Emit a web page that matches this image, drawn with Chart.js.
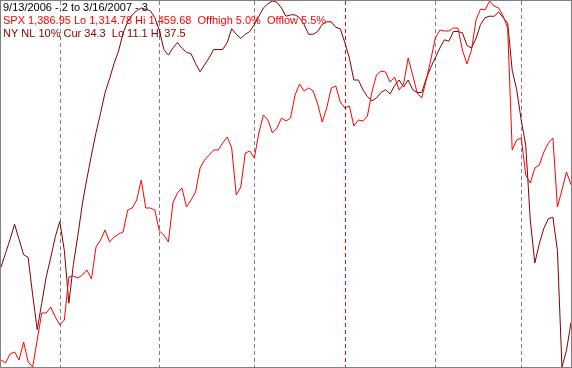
<!DOCTYPE html>
<html lang="en">
<head>
  <meta charset="UTF-8" />
  <title>SPX vs NY NL 10%</title>
  <script src="https://cdn.jsdelivr.net/npm/chart.js"></script>
  <style>
    html, body {
      margin: 0;
      padding: 0;
      background: #fff;
    }
    #wrap {
      width: 572px;
      height: 368px;
      position: relative;
    }
  </style>
</head>
<body>
  <div id="wrap">
    <canvas id="chart" width="572" height="368"></canvas>
  </div>

  <script>
    // daily closes, 9/13/2006 to 3/16/2007
    const spx = [
      1317.55, 1316.36, 1319.93, 1320.72, 1317.55, 1324.68, 1316.76, 1314.78, 1325.47, 1336.16,
      1336.16, 1338.53, 1334.58, 1331.41, 1333.39, 1350.41, 1350.81, 1350.02, 1351.20, 1353.18,
      1349.62, 1362.29, 1365.06, 1369.02, 1364.27, 1366.25, 1367.43, 1368.23, 1376.94, 1377.73,
      1380.90, 1388.81, 1377.73, 1377.73, 1376.94, 1368.62, 1367.04, 1364.27, 1379.71, 1383.67,
      1385.65, 1378.12, 1380.90, 1384.06, 1393.56, 1396.73, 1398.71, 1400.69, 1400.69, 1403.46,
      1405.84, 1401.48, 1382.87, 1386.04, 1399.50, 1400.29, 1397.52, 1407.42, 1414.55, 1412.57,
      1407.42, 1409.40, 1413.36, 1412.17, 1413.36, 1422.46, 1426.82, 1424.05, 1425.24, 1424.05,
      1418.90, 1411.78, 1417.32, 1425.24, 1426.03, 1419.69, 1417.32, 1418.11, 1410.19, 1412.57,
      1412.17, 1414.15, 1423.65, 1430.38, 1431.97, 1431.57, 1427.61, 1429.59, 1424.44, 1426.82,
      1437.11, 1430.38, 1423.26, 1421.28, 1428.40, 1436.32, 1445.03, 1448.20, 1447.80, 1447.80,
      1448.99, 1448.99, 1440.28, 1434.74, 1440.28, 1452.16, 1456.51, 1456.12, 1459.68, 1457.70,
      1456.91, 1453.74, 1448.99, 1400.69, 1404.65, 1405.44, 1390.79, 1387.63, 1393.56, 1394.75,
      1399.90, 1403.46, 1405.44, 1378.12, 1384.85, 1391.98, 1386.95
    ];

    // NYSE new lows, 10% smoothing (plotted upside down)
    const nyNl = [
      30.3, 29.3, 28.3, 27.2, 28.3, 29.4, 29.6, 32.3, 34.8, 32.9,
      31.0, 29.6, 28.1, 27.0, 29.1, 32.9, 30.1, 28.0, 25.7, 23.9,
      22.2, 20.6, 19.2, 17.7, 16.7, 15.6, 14.7, 13.4, 12.6, 12.1,
      11.8, 11.6, 11.7, 11.8, 12.3, 13.2, 14.6, 15.0, 14.5, 14.1,
      14.5, 14.8, 14.9, 15.6, 16.2, 15.7, 15.2, 14.6, 14.6, 14.6,
      14.1, 13.1, 13.5, 13.8, 13.5, 13.3, 12.8, 12.2, 11.6, 11.3,
      11.1, 11.2, 11.6, 12.2, 12.1, 12.1, 12.3, 12.8, 13.5, 13.5,
      13.3, 12.8, 12.6, 12.6, 13.0, 13.1, 14.1, 15.2, 16.8, 16.8,
      17.5, 18.0, 18.3, 18.1, 17.7, 17.5, 17.8, 17.2, 16.8, 17.3,
      16.8, 17.5, 17.7, 17.7, 16.7, 15.9, 15.2, 14.5, 13.9, 14.0,
      13.3, 13.3, 13.4, 14.3, 14.5, 13.8, 12.8, 12.3, 12.2, 12.2,
      11.9, 12.3, 12.7, 16.1, 17.5, 19.7, 21.5, 26.9, 30.0, 28.6,
      27.5, 26.8, 26.7, 29.1, 37.5, 36.3, 34.3
    ];

    // first trading day of each month (index into the series); 76 = new year
    const monthStarts = [13, 35, 56, 76, 96, 115];
    const yearStart = 76;

    const spxRange = [1314.78, 1459.68];
    const nlRange = [11.1, 37.5];

    const headerLines = [
      { text: '9/13/2006 - 2 to 3/16/2007 - 3', color: '#000000' },
      { text: 'SPX 1,386.95 Lo 1,314.78 Hi 1,459.68  Offhigh 5.0%  Offlow 5.5%', color: '#ff0000' },
      { text: 'NY NL 10% Cur 34.3  Lo 11.1 Hi 37.5', color: '#800000' }
    ];

    const labels = spx.map((_, i) => String(i));

    const monthLines = {
      id: 'monthLines',
      beforeDatasetsDraw(chart) {
        const ctx = chart.ctx;
        const x = chart.scales.x;
        const area = chart.chartArea;
        ctx.save();
        ctx.lineWidth = 1;
        ctx.setLineDash([4, 3]);
        monthStarts.forEach(idx => {
          const px = Math.round(x.getPixelForValue(idx)) + 0.5;
          ctx.strokeStyle = idx === yearStart ? '#ff0000' : '#808080';
          ctx.beginPath();
          ctx.moveTo(px, area.top);
          ctx.lineTo(px, area.bottom);
          ctx.stroke();
        });
        ctx.restore();
      },
      afterDraw(chart) {
        const ctx = chart.ctx;
        ctx.save();
        // frame
        ctx.strokeStyle = '#808080';
        ctx.lineWidth = 1;
        ctx.strokeRect(0.5, 0.5, chart.width - 1, chart.height - 1);
        // header text
        ctx.font = '11px "Liberation Sans", Arial, sans-serif';
        ctx.textBaseline = 'alphabetic';
        headerLines.forEach((line, i) => {
          ctx.fillStyle = line.color;
          ctx.fillText(line.text, 3, 11 + i * 13);
        });
        ctx.restore();
      }
    };

    new Chart('chart', {
      type: 'line',
      data: {
        labels: labels,
        datasets: [
          {
            label: 'SPX',
            data: spx,
            yAxisID: 'ySpx',
            borderColor: '#ff0000',
            borderWidth: 1,
            pointRadius: 0,
            tension: 0,
            fill: false
          },
          {
            label: 'NY NL 10%',
            data: nyNl,
            yAxisID: 'yNl',
            borderColor: '#800000',
            borderWidth: 1,
            pointRadius: 0,
            tension: 0,
            fill: false
          }
        ]
      },
      options: {
        responsive: false,
        animation: false,
        layout: { padding: { left: 1, right: 1, top: 1, bottom: 1 } },
        plugins: {
          legend: { display: false },
          tooltip: { enabled: false },
          title: { display: false }
        },
        scales: {
          x: { display: false, offset: false },
          ySpx: { display: false, min: spxRange[0], max: spxRange[1] },
          yNl: { display: false, min: nlRange[0], max: nlRange[1], reverse: true }
        }
      },
      plugins: [monthLines]
    });
  </script>
</body>
</html>
